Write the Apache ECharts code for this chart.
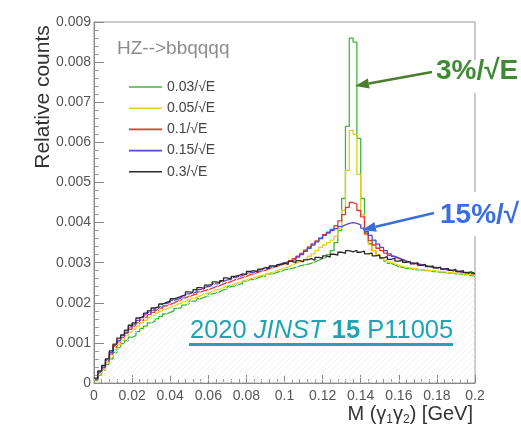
<!DOCTYPE html>
<html>
<head>
<meta charset="utf-8">
<style>
html,body{margin:0;padding:0;background:#fff;}
#chart{width:521px;height:433px;}
</style>
<script src="https://cdn.jsdelivr.net/npm/echarts@6/dist/echarts.min.js"></script>
</head>
<body>
<div id="chart"></div>
<script>
// Histogram binning: 100 bins from 0 to 0.2 GeV
const binLo = 0;
const binWidth = 0.002;
const xMax = 0.2;

const seriesNames = ['0.03/\u221AE', '0.05/\u221AE', '0.1/\u221AE', '0.15/\u221AE', '0.3/\u221AE'];
const seriesColors = ['#3fb63a', '#e2cf1e', '#e03a36', '#5549cc', '#2a2a2a'];

// Relative counts per bin (bin i spans [i*binWidth, (i+1)*binWidth])
const res003 = [
0.00006,0.00020,0.00032,0.00046,0.00060,0.00076,0.00088,0.00098,0.00106,0.00114,
0.00118,0.00128,0.00136,0.00142,0.00150,0.00154,0.00160,0.00166,0.00172,0.00176,
0.00180,0.00186,0.00188,0.00194,0.00198,0.00204,0.00204,0.00210,0.00214,0.00216,
0.00222,0.00224,0.00228,0.00232,0.00234,0.00240,0.00242,0.00246,0.00248,0.00254,
0.00258,0.00258,0.00262,0.00266,0.00266,0.00272,0.00272,0.00276,0.00278,0.00282,
0.00284,0.00286,0.00288,0.00292,0.00294,0.00296,0.00298,0.00302,0.00306,0.00310,
0.00314,0.00320,0.00330,0.00350,0.00380,0.00460,0.00640,0.00860,0.00850,0.00610,
0.00460,0.00375,0.00348,0.00330,0.00318,0.00310,0.00304,0.00298,0.00294,0.00290,
0.00288,0.00286,0.00285,0.00284,0.00282,0.00282,0.00280,0.00280,0.00278,0.00278,
0.00276,0.00276,0.00274,0.00274,0.00272,0.00272,0.00270,0.00270,0.00268,0.00266
];
const res005 = [
0.00008,0.00022,0.00034,0.00050,0.00066,0.00083,0.00096,0.00107,0.00118,0.00127,
0.00134,0.00142,0.00150,0.00156,0.00163,0.00168,0.00174,0.00179,0.00184,0.00188,
0.00192,0.00196,0.00200,0.00204,0.00208,0.00211,0.00214,0.00218,0.00222,0.00224,
0.00228,0.00232,0.00234,0.00238,0.00242,0.00244,0.00248,0.00250,0.00253,0.00257,
0.00260,0.00262,0.00266,0.00268,0.00270,0.00274,0.00276,0.00280,0.00283,0.00287,
0.00290,0.00294,0.00298,0.00302,0.00306,0.00310,0.00316,0.00322,0.00330,0.00338,
0.00344,0.00350,0.00356,0.00366,0.00385,0.00430,0.00530,0.00630,0.00620,0.00520,
0.00420,0.00370,0.00345,0.00330,0.00320,0.00312,0.00306,0.00301,0.00297,0.00294,
0.00291,0.00289,0.00287,0.00286,0.00284,0.00283,0.00282,0.00281,0.00280,0.00279,
0.00278,0.00277,0.00276,0.00275,0.00274,0.00273,0.00272,0.00271,0.00270,0.00268
];
const res010 = [
0.00009,0.00025,0.00038,0.00055,0.00072,0.00090,0.00102,0.00113,0.00124,0.00134,
0.00142,0.00150,0.00157,0.00164,0.00171,0.00176,0.00182,0.00187,0.00192,0.00196,
0.00200,0.00204,0.00207,0.00212,0.00216,0.00219,0.00222,0.00227,0.00230,0.00233,
0.00236,0.00240,0.00243,0.00247,0.00250,0.00253,0.00257,0.00260,0.00263,0.00266,
0.00270,0.00272,0.00276,0.00279,0.00281,0.00285,0.00288,0.00291,0.00294,0.00297,
0.00300,0.00305,0.00310,0.00316,0.00323,0.00331,0.00339,0.00347,0.00354,0.00362,
0.00370,0.00376,0.00383,0.00392,0.00404,0.00420,0.00438,0.00450,0.00446,0.00430,
0.00414,0.00372,0.00355,0.00344,0.00336,0.00330,0.00324,0.00318,0.00314,0.00310,
0.00307,0.00304,0.00301,0.00299,0.00297,0.00295,0.00293,0.00291,0.00289,0.00287,
0.00285,0.00284,0.00282,0.00280,0.00279,0.00277,0.00276,0.00274,0.00273,0.00271
];
const res015 = [
0.00010,0.00028,0.00040,0.00058,0.00076,0.00094,0.00106,0.00118,0.00127,0.00140,
0.00147,0.00156,0.00163,0.00170,0.00176,0.00182,0.00188,0.00192,0.00198,0.00201,
0.00206,0.00209,0.00212,0.00217,0.00222,0.00224,0.00228,0.00233,0.00235,0.00240,
0.00242,0.00247,0.00248,0.00253,0.00257,0.00258,0.00263,0.00266,0.00268,0.00272,
0.00275,0.00276,0.00280,0.00283,0.00285,0.00289,0.00290,0.00294,0.00297,0.00300,
0.00301,0.00305,0.00308,0.00314,0.00320,0.00328,0.00336,0.00344,0.00352,0.00360,
0.00368,0.00374,0.00380,0.00385,0.00390,0.00394,0.00398,0.00400,0.00398,0.00394,
0.00386,0.00378,0.00368,0.00356,0.00346,0.00338,0.00330,0.00322,0.00316,0.00312,
0.00308,0.00304,0.00301,0.00299,0.00296,0.00295,0.00292,0.00291,0.00288,0.00288,
0.00285,0.00284,0.00282,0.00281,0.00279,0.00278,0.00276,0.00276,0.00274,0.00273
];
const res030 = [
0.00012,0.00030,0.00044,0.00060,0.00080,0.00097,0.00112,0.00120,0.00132,0.00144,
0.00150,0.00162,0.00166,0.00174,0.00180,0.00187,0.00190,0.00197,0.00201,0.00204,
0.00210,0.00213,0.00216,0.00220,0.00227,0.00226,0.00233,0.00238,0.00236,0.00244,
0.00245,0.00252,0.00250,0.00255,0.00262,0.00259,0.00266,0.00268,0.00272,0.00270,
0.00278,0.00280,0.00277,0.00284,0.00288,0.00285,0.00292,0.00290,0.00295,0.00299,
0.00296,0.00303,0.00300,0.00305,0.00302,0.00307,0.00310,0.00306,0.00313,0.00311,
0.00317,0.00314,0.00321,0.00319,0.00326,0.00323,0.00330,0.00327,0.00331,0.00326,
0.00329,0.00322,0.00324,0.00317,0.00319,0.00312,0.00315,0.00308,0.00311,0.00304,
0.00306,0.00301,0.00303,0.00297,0.00300,0.00293,0.00296,0.00290,0.00292,0.00287,
0.00289,0.00284,0.00286,0.00281,0.00283,0.00278,0.00280,0.00275,0.00277,0.00273
];
const seriesValues = [res003, res005, res010, res015, res030];

const xTickLabels = ['0','0.02','0.04','0.06','0.08','0.1','0.12','0.14','0.16','0.18','0.2'];
const yTickLabels = ['0','0.001','0.002','0.003','0.004','0.005','0.006','0.007','0.008','0.009'];

const FONT = 'Liberation Sans, Arial, Helvetica, sans-serif';

function toSteps(vals) {
  const pts = vals.map((v, i) => [binLo + i * binWidth, v]);
  pts.push([xMax, vals[vals.length - 1]]);
  return pts;
}

// faint hatch pattern under the distributions
const hatch = document.createElement('canvas');
hatch.width = 6; hatch.height = 6;
(function () {
  const c = hatch.getContext('2d');
  c.strokeStyle = '#eeeeee';
  c.lineWidth = 0.8;
  c.beginPath();
  c.moveTo(0, 6); c.lineTo(6, 0);
  c.stroke();
})();

const chart = echarts.init(document.getElementById('chart'), null, {renderer: 'canvas'});

const series = seriesNames.map((name, k) => ({
  name: name,
  type: 'line',
  step: 'end',
  symbol: 'none',
  showSymbol: false,
  data: toSteps(seriesValues[k]),
  lineStyle: {color: seriesColors[k], width: 1.3},
  itemStyle: {color: seriesColors[k]},
  areaStyle: k === 4 ? {color: {image: hatch, repeat: 'repeat'}, opacity: 1, origin: 'start'} : undefined,
  z: 2 + k,
  silent: true
}));

function arrow(x1, y1, tx, ty, color, head, half) {
  const dx = tx - x1, dy = ty - y1;
  const L = Math.sqrt(dx * dx + dy * dy);
  const ux = dx / L, uy = dy / L;
  const bx = tx - ux * head, by = ty - uy * head;
  const px = -uy * half, py = ux * half;
  return [
    {type: 'line', z: 100, shape: {x1: x1, y1: y1, x2: bx, y2: by}, style: {stroke: color, lineWidth: 2.4}},
    {type: 'polygon', z: 100, shape: {points: [[tx, ty], [bx + px, by + py], [bx - px, by - py]]}, style: {fill: color}}
  ];
}

const CITE = '#22a3b4';

const option = {
  animation: false,
  backgroundColor: '#fff',
  grid: {left: 94, top: 22, right: 46, bottom: 50, show: true, borderColor: '#999', borderWidth: 1},
  legend: {
    orient: 'vertical',
    left: 124,
    top: 74,
    icon: 'rect',
    itemWidth: 33,
    itemHeight: 1.6,
    itemGap: 5.2,
    selectedMode: false,
    textStyle: {fontFamily: FONT, fontSize: 14, color: '#444', lineHeight: 16},
    data: seriesNames
  },
  xAxis: {
    type: 'value',
    min: 0,
    max: xMax,
    interval: 0.02,
    axisLine: {show: true, lineStyle: {color: '#888', width: 1}},
    axisTick: {show: true, inside: true, length: 8, lineStyle: {color: '#888'}},
    minorTick: {show: true, splitNumber: 5, length: 4, lineStyle: {color: '#999'}},
    splitLine: {show: false},
    axisLabel: {
      margin: 6, fontFamily: FONT, fontSize: 14, color: '#555',
      showMinLabel: true, showMaxLabel: true,
      formatter: (v, i) => xTickLabels[i]
    }
  },
  yAxis: {
    type: 'value',
    min: 0,
    max: 0.009,
    interval: 0.001,
    axisLine: {show: true, lineStyle: {color: '#888', width: 1}},
    axisTick: {show: true, inside: true, length: 10, lineStyle: {color: '#888'}},
    minorTick: {show: true, splitNumber: 5, length: 5, lineStyle: {color: '#999'}},
    splitLine: {show: false},
    axisLabel: {
      margin: 3, fontFamily: FONT, fontSize: 14, color: '#555',
      formatter: (v, i) => yTickLabels[i]
    }
  },
  series: series,
  graphic: [
    {type: 'text', z: 100, x: 43, y: 97, rotation: Math.PI / 2,
     style: {text: 'Relative counts', font: '21px ' + FONT, fill: '#333', textAlign: 'center', textVerticalAlign: 'middle'}},
    {type: 'text', z: 100, x: 473, y: 414,
     style: {
       text: '{n|M (\u03B3}{s|1}{n|\u03B3}{s|2}{n|) [GeV]}',
       textAlign: 'right', textVerticalAlign: 'middle', fill: '#333',
       rich: {
         n: {fontFamily: FONT, fontSize: 20, fill: '#333', lineHeight: 24, verticalAlign: 'middle'},
         s: {fontFamily: FONT, fontSize: 12, fill: '#333', lineHeight: 24, verticalAlign: 'bottom'}
       }
     }},
    {type: 'text', z: 100, x: 117, y: 49,
     style: {text: 'HZ-->bbqqqq', font: '19px ' + FONT, fill: '#8c8c8c', textAlign: 'left', textVerticalAlign: 'middle'}},
    {type: 'rect', z: 99, shape: {x: 431, y: 60, width: 90, height: 33}, style: {fill: '#fff'}},
    {type: 'text', z: 100, x: 436, y: 71,
     style: {text: '3%/\u221AE', font: 'bold 28px ' + FONT, fill: '#418a35', textAlign: 'left', textVerticalAlign: 'middle'}},
    {type: 'rect', z: 99, shape: {x: 436, y: 192, width: 85, height: 44}, style: {fill: '#fff'}},
    {type: 'text', z: 100, x: 440, y: 215,
     style: {text: '15%/\u221A', font: 'bold 28px ' + FONT, fill: '#3a6ee0', textAlign: 'left', textVerticalAlign: 'middle'}},
    ...arrow(432, 72, 355, 86, '#4a7d2e', 14, 5),
    ...arrow(434, 213, 362, 230, '#3a6fd8', 14, 5),
    {type: 'text', z: 100, x: 190, y: 331,
     style: {
       text: '{r|2020 }{i|JINST}{r| }{b|15}{r| P11005}',
       textAlign: 'left', textVerticalAlign: 'middle', fill: CITE,
       rich: {
         r: {fontFamily: FONT, fontSize: 25.5, fill: CITE},
         i: {fontFamily: FONT, fontSize: 25.5, fontStyle: 'italic', fill: CITE},
         b: {fontFamily: FONT, fontSize: 25.5, fontWeight: 'bold', fill: CITE}
       }
     }},
    {type: 'rect', z: 100, shape: {x: 189, y: 343, width: 264, height: 3}, style: {fill: CITE}}
  ]
};

chart.setOption(option);
</script>
</body>
</html>
